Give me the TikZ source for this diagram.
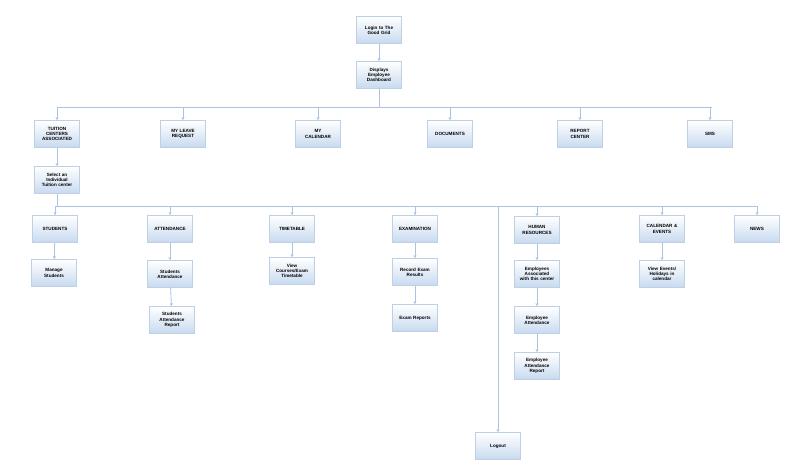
\documentclass[tikz,border=0pt]{standalone}
\usepackage{fontspec}
\setmainfont{Liberation Sans}
\usetikzlibrary{arrows.meta}
\definecolor{ln}{RGB}{170,195,225}
\definecolor{bx}{RGB}{190,208,230}
\definecolor{bot}{RGB}{200,218,240}
\tikzset{
 box/.style={draw=bx,line width=0.8pt,top color=white,bottom color=bot,minimum width=45pt,minimum height=27pt,inner sep=1pt,align=center,font=\bfseries\fontsize{4.6}{5.2}\selectfont,text width=42pt},
 con/.style={draw=ln,line width=0.8pt},
 arr/.style={con,-{Stealth[length=3pt,width=3pt]}}
}
\begin{document}
\begin{tikzpicture}[x=1pt,y=-1pt]
\useasboundingbox[fill=white] (0,0) rectangle (800,476);
\node[box] (login) at (379,30) {Login to The\\Good Grid};
\node[box] (dash) at (379,75) {Displays\\Employee\\Dashboard};
\node[box] (tc) at (57,134) {TUITION\\CENTERS\\ASSOCIATED};
\node[box] (leave) at (183,134) {MY LEAVE\\REQUEST};
\node[box] (cal) at (318,134) {MY\\CALENDAR};
\node[box] (doc) at (450,134) {DOCUMENTS};
\node[box] (rep) at (580,134) {REPORT\\CENTER};
\node[box] (sms) at (710,134) {SMS};
\node[box] (sel) at (57,180) {Select an\\Individual\\Tuition center};
\node[box] (stu) at (55,229) {STUDENTS};
\node[box] (att) at (170,229) {ATTENDANCE};
\node[box] (tt) at (292,229) {TIMETABLE};
\node[box] (ex) at (415,229) {EXAMINATION};
\node[box] (hr) at (537,230) {HUMAN\\RESOURCES};
\node[box] (ce) at (662,229) {CALENDAR \&\\EVENTS};
\node[box] (news) at (757,229) {NEWS};
\node[box] (ms) at (54,273) {Manage\\Students};
\node[box] (sa) at (170,274) {Students\\Attendance};
\node[box] (sar) at (172,320) {Students\\Attendance\\Report};
\node[box] (vc) at (292,271) {View\\Courses/Exam\\Timetable};
\node[box] (rer) at (415,272) {Record Exam\\Results};
\node[box] (er) at (415,318) {Exam Reports};
\node[box] (ea) at (537,274) {Employees\\Associated\\with this center};
\node[box] (eat) at (537,320) {Employee\\Attendance};
\node[box] (ear) at (537,366) {Employee\\Attendance\\Report};
\node[box] (ve) at (662,274) {View Events/\\Holidays in\\calendar};
\node[box] (out) at (498,446) {Logout};
\draw[arr] (login) -- (dash);
\coordinate (b1) at (379,107);
\draw[con] (dash) -- (b1);
\draw[con] (57,107) -- (712,107);
\foreach \n in {tc,leave,cal,doc,rep,sms} \draw[arr] (\n.north |- b1) -- (\n.north);
\draw[arr] (tc) -- (sel);
\coordinate (b2) at (57,206);
\draw[con] (sel) -- (b2);
\draw[con] (55,206) -- (757,206);
\foreach \n in {stu,att,tt,ex,hr,ce,news} \draw[arr] (\n.north |- b2) -- (\n.north);
\draw[arr] (out.north |- b2) -- (out.north);
\draw[arr] (stu) -- (ms);
\draw[arr] (att) -- (sa);
\draw[arr] (sa) -- (sar);
\draw[arr] (tt) -- (vc);
\draw[arr] (ex) -- (rer);
\draw[arr] (rer) -- (er);
\draw[arr] (hr) -- (ea);
\draw[arr] (ea) -- (eat);
\draw[arr] (eat) -- (ear);
\draw[arr] (ce) -- (ve);
\end{tikzpicture}
\end{document}
